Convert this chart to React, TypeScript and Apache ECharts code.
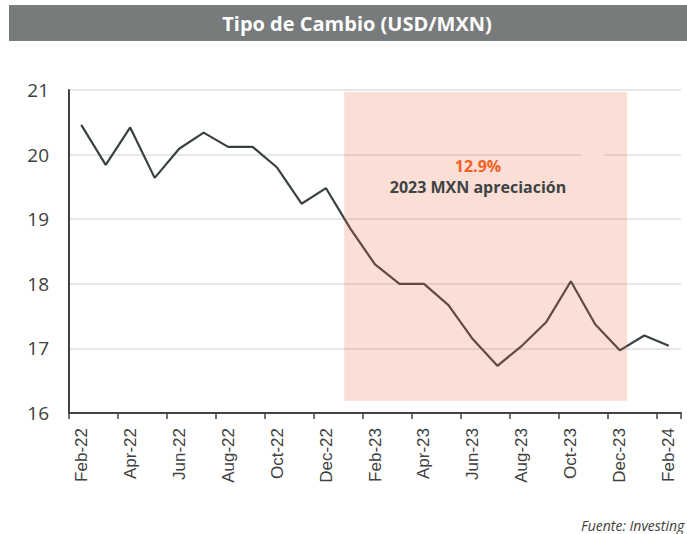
import React, { useEffect, useRef } from "react";
import * as echarts from "echarts";

const categories = [
  "Feb-22", "Mar-22", "Apr-22", "May-22", "Jun-22", "Jul-22", "Aug-22", "Sep-22",
  "Oct-22", "Nov-22", "Dec-22", "Jan-23", "Feb-23", "Mar-23", "Apr-23", "May-23",
  "Jun-23", "Jul-23", "Aug-23", "Sep-23", "Oct-23", "Nov-23", "Dec-23", "Jan-24", "Feb-24",
];
const usdmxn = [
  20.46, 19.84, 20.42, 19.64, 20.09, 20.34, 20.12, 20.12, 19.8, 19.24, 19.48, 18.85,
  18.3, 18.0, 18.0, 17.67, 17.14, 16.73, 17.04, 17.41, 18.04, 17.37, 16.97, 17.2, 17.04,
];
const yTicks = { min: 16, max: 21, interval: 1 };
// shaded 2023 region, in (category index, value) coordinates
const shadeX = [10.74, 22.3];
const shadeY = [20.97, 16.19];
const titleText = "Tipo de Cambio (USD/MXN)";
const notePct = "12.9%";
const noteText = "2023 MXN apreciación";
const sourceText = "Fuente: Investing";

export default function App() {
  const ref = useRef<HTMLDivElement>(null);
  useEffect(() => {
    if (!ref.current) return;
    const chart = echarts.init(ref.current, null, { renderer: "svg" });
    const axisColor = "#3f4444";
    chart.setOption({
      animation: false,
      backgroundColor: "#ffffff",
      grid: { left: 69, right: 6, top: 90, bottom: 121, containLabel: false },
      xAxis: [
        {
          type: "category",
          data: categories,
          boundaryGap: true,
          axisLine: { show: true, onZero: false, lineStyle: { color: axisColor, width: 2 } },
          axisTick: { show: true, interval: 1, length: 6, lineStyle: { color: axisColor, width: 1.5 } },
          axisLabel: {
            interval: 1,
            rotate: 90,
            margin: 15,
            fontFamily: "Liberation Sans",
            fontSize: 17,
            color: "#404040",
          },
          splitLine: { show: false },
        },
        {
          type: "value",
          min: -0.5,
          max: categories.length - 0.5,
          show: false,
        },
      ],
      yAxis: {
        type: "value",
        min: yTicks.min,
        max: yTicks.max,
        interval: yTicks.interval,
        axisLine: { show: true, onZero: false, lineStyle: { color: axisColor, width: 2 } },
        axisTick: { show: false },
        axisLabel: { margin: 20, fontFamily: "Open Sans", fontSize: 19, color: "#404040" },
        splitLine: { show: true, lineStyle: { color: "#dde1e1", width: 1.5 } },
      },
      series: [
        {
          type: "line",
          data: usdmxn,
          xAxisIndex: 0,
          symbol: "none",
          lineStyle: { color: "#3a4141", width: 2.2 },
          z: 3,
        },
        {
          type: "custom",
          xAxisIndex: 1,
          yAxisIndex: 0,
          z: 10,
          silent: true,
          encode: { x: [0, 2], y: [1, 3] },
          data: [[shadeX[0], shadeY[0], shadeX[1], shadeY[1]]],
          renderItem: (params: any, api: any) => {
            const p0 = api.coord([api.value(0), api.value(1)]);
            const p1 = api.coord([api.value(2), api.value(3)]);
            return {
              type: "rect",
              shape: { x: p0[0], y: p0[1], width: p1[0] - p0[0], height: p1[1] - p0[1] },
              style: { fill: "rgba(235,110,70,0.22)" },
            };
          },
        },
      ],
      graphic: [
        {
          type: "rect",
          z: 1,
          shape: { x: 9, y: 5, width: 700, height: 36 },
          style: { fill: "#777b7b" },
        },
        {
          type: "text",
          z: 50,
          x: 357,
          y: 23,
          style: {
            text: titleText,
            fill: "#ffffff",
            font: "bold 20px 'Open Sans'",
            align: "center",
            verticalAlign: "middle",
          },
        },
        {
          type: "rect",
          z: 2,
          shape: { x: 581, y: 151, width: 23, height: 5 },
          style: { fill: "#ffffff" },
        },
        {
          type: "text",
          z: 50,
          x: 478,
          y: 166,
          style: {
            text: notePct,
            fill: "#f26122",
            font: "bold 16px 'Open Sans'",
            align: "center",
            verticalAlign: "middle",
          },
        },
        {
          type: "text",
          z: 50,
          x: 478,
          y: 187,
          style: {
            text: noteText,
            fill: "#3d4343",
            font: "bold 16px 'Open Sans'",
            align: "center",
            verticalAlign: "middle",
          },
        },
        {
          type: "text",
          z: 50,
          x: 581,
          y: 525,
          style: {
            text: sourceText,
            fill: "#404040",
            font: "italic 14px 'Open Sans'",
            align: "left",
            verticalAlign: "middle",
          },
        },
      ],
    });
    return () => chart.dispose();
  }, []);
  return (
    <div
      ref={ref}
      style={{ position: "fixed", left: 0, top: 0, width: 687, height: 534 }}
    />
  );
}
